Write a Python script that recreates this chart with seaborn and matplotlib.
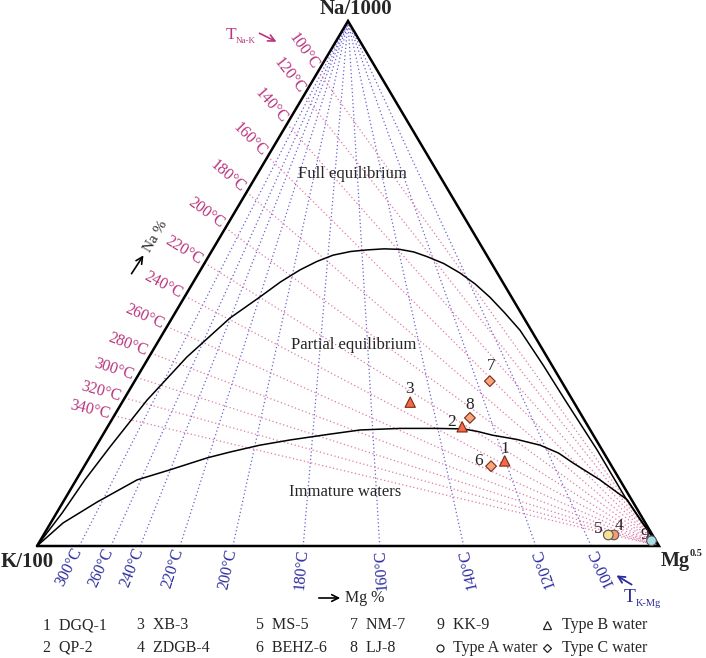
import numpy as np
import pandas as pd
import matplotlib
matplotlib.use('Agg')
import matplotlib.pyplot as plt
import seaborn as sns

# samples (ternary %)
sample_no = ['1', '2', '3', '4', '5', '6', '7', '8', '9']
sample_name = ['DGQ-1', 'QP-2', 'XB-3', 'ZDGB-4', 'MS-5', 'BEHZ-6', 'NM-7', 'LJ-8', 'KK-9']
water_type = ['B', 'B', 'B', 'A', 'A', 'C', 'C', 'C', 'A']
na_pct = [16.2, 22.7, 27.4, 2.1, 2.1, 15.2, 31.4, 24.4, 1.0]
k_pct = [16.7, 20.3, 26.3, 6.2, 7.1, 19.4, 11.5, 18.2, 0.7]
mg_pct = [67.1, 57.0, 46.3, 91.7, 90.8, 65.4, 57.1, 57.4, 98.3]
sample_color = ['#f26a47', '#f26a47', '#f26a47', '#f79a72', '#f6e296',
                '#f7a57c', '#f7a57c', '#f7a57c', '#a8dde6']

# K-Mg isotherms: position on the K-Mg side (Mg fraction)
tkm_labels = ['300°C', '260°C', '240°C', '220°C', '200°C',
              '180°C', '160°C', '140°C', '120°C', '100°C']
tkm_mg = [0.068, 0.119, 0.166, 0.230, 0.315, 0.428, 0.551, 0.686, 0.802, 0.891]

# Na-K isotherms: position on the K-Na side (Na fraction)
tnk_labels = ['100°C', '120°C', '140°C', '160°C', '180°C', '200°C', '220°C',
              '240°C', '260°C', '280°C', '300°C', '320°C', '340°C']
tnk_na = [0.904, 0.859, 0.804, 0.742, 0.674, 0.606, 0.539,
          0.476, 0.418, 0.367, 0.321, 0.282, 0.248]

# full equilibrium line (Na, Mg fractions)
full_na = [0, 0.063, 0.126, 0.189, 0.278, 0.360, 0.434, 0.474, 0.503, 0.526, 0.542,
           0.554, 0.561, 0.564, 0.566, 0.565, 0.560, 0.551, 0.538, 0.520, 0.499,
           0.474, 0.444, 0.411, 0.345, 0.278, 0.183, 0.093, 0.045, 0]
full_mg = [0, 0.009, 0.014, 0.023, 0.038, 0.061, 0.093, 0.121, 0.140, 0.160, 0.179,
           0.199, 0.224, 0.249, 0.275, 0.301, 0.326, 0.352, 0.385, 0.420, 0.455,
           0.491, 0.530, 0.571, 0.641, 0.710, 0.809, 0.899, 0.950, 1]

# immature waters line (Na, Mg fractions)
imm_na = [0, 0.044, 0.084, 0.126, 0.145, 0.168, 0.179, 0.192, 0.202, 0.213, 0.221,
          0.224, 0.224, 0.223, 0.218, 0.211, 0.203, 0.192, 0.177, 0.158, 0.126,
          0.088, 0.044, 0]
imm_mg = [0, 0.020, 0.055, 0.098, 0.141, 0.190, 0.221, 0.262, 0.306, 0.364, 0.409,
          0.472, 0.531, 0.574, 0.600, 0.627, 0.670, 0.713, 0.750, 0.783, 0.842,
          0.905, 0.952, 1]

PINK_T = '#b8357f'
PINK_L = '#e07aa8'
BLUE_T = '#2b2b9e'
BLUE_L = '#6a60d0'
SERIF = ['Liberation Serif', 'DejaVu Serif']


def tern(na, mg):
    # ternary -> cartesian, apex = Na, right = Mg, left = K
    na = np.asarray(na, dtype=float)
    mg = np.asarray(mg, dtype=float)
    return mg + na / 2, na


def px(xp, yp):
    # image pixel -> data coordinates
    return (xp - 37) / 622, (546 - yp) / 525


def angle_of(dx, dy):
    return np.degrees(np.arctan2(dy * 525, dx * 622))


sns.set_theme(style='white')
plt.rcParams['font.family'] = SERIF

fig = plt.figure(figsize=(7.06, 6.58), dpi=100)
ax = fig.add_axes([0, 0, 1, 1])
ax.set_xlim(-37 / 622, 669 / 622)
ax.set_ylim(-112 / 525, 546 / 525)
ax.axis('off')

# K-Mg isotherms (blue, from Na apex)
for lab, m in zip(tkm_labels, tkm_mg):
    ax.plot([m, 0.5], [0, 1], color=BLUE_L, lw=0.9, ls=(0, (1, 2)), zorder=1)
    dx, dy = 0.5 - m, 1.0
    ang = angle_of(dx, dy)
    L = np.hypot(dx * 622, dy * 525)
    off = 3
    ax.text(m - dx / L * off, 0 - dy / L * off, lab, rotation=ang,
            rotation_mode='anchor', ha='right', va='center',
            color=BLUE_T, fontsize=11.5)

# Na-K isotherms (pink, from Mg vertex)
for lab, n in zip(tnk_labels, tnk_na):
    x0, y0 = tern(n, 0)
    ax.plot([x0, 1], [y0, 0], color=PINK_L, lw=0.9, ls=(0, (1, 2)), zorder=1)
    dx, dy = 1 - x0, -y0
    ang = angle_of(dx, dy)
    L = np.hypot(dx * 622, dy * 525)
    off = 4
    ax.text(x0 - dx / L * off, y0 - dy / L * off, lab, rotation=ang,
            rotation_mode='anchor', ha='right', va='center',
            color=PINK_T, fontsize=11.5)

# curves
fx, fy = tern(full_na, full_mg)
sns.lineplot(x=fx, y=fy, sort=False, estimator=None, color='black', lw=1.1, ax=ax, zorder=3)
ix, iy = tern(imm_na, imm_mg)
sns.lineplot(x=ix, y=iy, sort=False, estimator=None, color='black', lw=1.1, ax=ax, zorder=3)

# triangle frame
ax.plot([0, 1, 0.5, 0], [0, 0, 1, 0], color='black', lw=1.8, zorder=4,
        solid_joinstyle='miter')

# samples
df = pd.DataFrame({'no': sample_no, 'name': sample_name, 'type': water_type,
                   'Na': na_pct, 'K': k_pct, 'Mg': mg_pct})
df['x'], df['y'] = tern(df['Na'] / 100, df['Mg'] / 100)
markers = {'A': 'o', 'B': '^', 'C': 'D'}
sizes = {'A': 48, 'B': 55, 'C': 30}
for t in ['A', 'B', 'C']:
    sub = df[df['type'] == t]
    sns.scatterplot(data=sub, x='x', y='y', hue='no',
                    palette=dict(zip(sample_no, sample_color)),
                    marker=markers[t], s=sizes[t], edgecolor='#7a2a14' if t != 'A' else '#555555',
                    linewidth=0.8, legend=False, ax=ax, zorder=5)

label_off = {'1': (0, 12), '2': (-11, 5), '3': (-1, 13), '4': (5, 9), '5': (-10, 6),
             '6': (-12, 5), '7': (1, 15), '8': (0, 13), '9': (-7, 6)}
for _, r in df.iterrows():
    ax.annotate(r['no'], (r['x'], r['y']), xytext=label_off[r['no']],
                textcoords='offset pixels', ha='center', va='center', fontsize=12.5)

# vertex labels
ax.text(*px(356, 9), 'Na/1000', ha='center', va='center', fontsize=15, fontweight='bold')
ax.text(*px(27, 562), 'K/100', ha='center', va='center', fontsize=15, fontweight='bold')
ax.text(*px(661, 561), 'Mg', ha='left', va='center', fontsize=14.5, fontweight='bold')
ax.text(*px(690, 553), '0.5', ha='left', va='center', fontsize=7.5, fontweight='bold')

# field names
ax.text(*px(352, 174), 'Full equilibrium', ha='center', va='center', fontsize=12)
ax.text(*px(354, 345), 'Partial equilibrium', ha='center', va='center', fontsize=12)
ax.text(*px(345, 492), 'Immature waters', ha='center', va='center', fontsize=12)

# thermometer titles
ax.text(*px(226, 35), 'T', ha='left', va='center', fontsize=12.5, color=PINK_T)
ax.text(*px(236, 41), 'Na-K', ha='left', va='center', fontsize=6.5, color=PINK_T)
ax.annotate('', xy=px(279, 43), xytext=px(257, 32),
            arrowprops=dict(arrowstyle='->', color=PINK_T, lw=1.2))
ax.text(*px(624, 597), 'T', ha='left', va='center', fontsize=14, color=BLUE_T)
ax.text(*px(636, 604), 'K-Mg', ha='left', va='center', fontsize=7.5, color=BLUE_T)
ax.annotate('', xy=px(614, 574), xytext=px(634, 586),
            arrowprops=dict(arrowstyle='->', color=BLUE_T, lw=1.3))

# axis direction hints
ax.annotate('', xy=px(145, 253), xytext=px(130, 276),
            arrowprops=dict(arrowstyle='->', color='black', lw=1.2))
ax.text(*px(156, 236), 'Na %', rotation=angle_of(0.5, 1), ha='center', va='center', fontsize=11)
ax.annotate('', xy=px(343, 598), xytext=px(316, 598),
            arrowprops=dict(arrowstyle='->', color='black', lw=1.2))
ax.text(*px(345, 598), 'Mg %', ha='left', va='center', fontsize=11.5)

# legend text
row1, row2 = 625, 648
leg1 = [(43, '1  DGQ-1'), (137, '3  XB-3'), (256, '5  MS-5'), (350, '7  NM-7'), (437, '9  KK-9')]
leg2 = [(43, '2  QP-2'), (137, '4  ZDGB-4'), (256, '6  BEHZ-6'), (350, '8  LJ-8')]
for xp, s in leg1:
    ax.text(*px(xp, row1), s, ha='left', va='center', fontsize=11.5)
for xp, s in leg2:
    ax.text(*px(xp, row2), s, ha='left', va='center', fontsize=11.5)

# legend keys (hollow symbols)
key_style = dict(ls='none', mfc='none', mec='#222222', mew=0.9)
ax.plot(*px(547, row1), marker='^', ms=5.5, **key_style)
ax.text(*px(562, row1), 'Type B water', ha='left', va='center', fontsize=11.5)
ax.plot(*px(440, row2), marker='o', ms=5, **key_style)
ax.text(*px(453, row2), 'Type A water', ha='left', va='center', fontsize=11.5)
ax.plot(*px(547, row2), marker='D', ms=4, **key_style)
ax.text(*px(562, row2), 'Type C water', ha='left', va='center', fontsize=11.5)

fig.savefig('out.png', dpi=100)
